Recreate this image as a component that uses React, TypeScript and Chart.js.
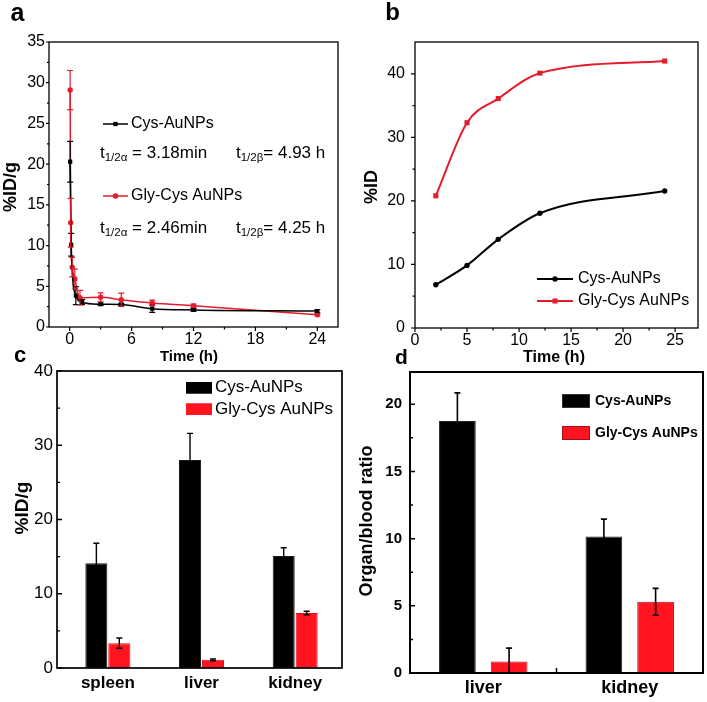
import { useEffect, useRef } from "react";
import { Chart, registerables } from "chart.js";

Chart.register(...registerables);

const W = 707;
const H = 702;
const FONT = "'Liberation Sans', Arial, Helvetica, sans-serif";
const BLACK = "#000000";
const RED_LINE = "#e41c2c";
const RED_BAR = "#ff1420";

const seriesNames = ["Cys-AuNPs", "Gly-Cys AuNPs"];

// ---------- (a) blood clearance ----------
const cysTimeA = [0.05, 0.15, 0.6, 1.2, 3, 5, 8, 12, 24];
const cysA = [20.3, 10.1, 3.85, 3.05, 2.8, 2.75, 2.25, 2.1, 1.95];
const cysErrA = [2.5, 1.4, 1.1, 0.3, 0.15, 0.15, 0.45, 0.15, 0.2];
const glyTimeA = [0.05, 0.1, 0.25, 0.5, 1, 3, 5, 8, 12, 24];
const glyA = [29.1, 12.8, 7.35, 5.9, 3.6, 3.65, 3.35, 2.95, 2.6, 1.5];
const glyErrA = [2.4, 3.0, 1.2, 1.2, 0.9, 0.55, 0.8, 0.35, 0.2, 0.15];
const xTicksA = [0, 6, 12, 18, 24];
const xMinorA = [3, 9, 15, 21];
const yTicksA = [0, 5, 10, 15, 20, 25, 30, 35];
const yMinorA = [2.5, 7.5, 12.5, 17.5, 22.5, 27.5, 32.5];
const halfLifeA = [
  ["1/2α", " = 3.18min", "1/2β", "= 4.93 h"],
  ["1/2α", " = 2.46min", "1/2β", "= 4.25 h"],
];

// ---------- (b) cumulative %ID ----------
const timeB = [2, 5, 8, 12, 24];
const cysB = [6.8, 9.85, 13.95, 18.05, 21.55];
const glyB = [20.8, 32.3, 36.1, 40.1, 42.0];
const xTicksB = [0, 5, 10, 15, 20, 25];
const xMinorB = [2.5, 7.5, 12.5, 17.5, 22.5];
const yTicksB = [0, 10, 20, 30, 40];
const yMinorB = [5, 15, 25, 35];

// ---------- (c) organ %ID/g ----------
const organsC = ["spleen", "liver", "kidney"];
const cysC = [14.1, 28.0, 15.1];
const cysErrC = [2.7, 3.6, 1.1];
const glyC = [3.35, 1.1, 7.4];
const glyErrC = [0.7, 0.12, 0.25];
const yTicksC = [0, 10, 20, 30, 40];
const yMinorC = [5, 15, 25, 35];

// ---------- (d) organ/blood ratio ----------
const organsD = ["liver", "kidney"];
const cysD = [18.75, 10.15];
const cysErrD = [2.1, 1.3];
const glyD = [0.85, 5.3];
const glyErrD = [1.0, 1.0];
const yTicksD = [0, 5, 10, 15, 20];
const yMinorD = [2.5, 7.5, 12.5, 17.5];
const xSepD = [0.5];

type Box = { l: number; r: number; t: number; b: number };
type TickSet = { major: number[]; minor: number[]; inward: boolean; len: number; minorLen: number };
type ErrSet = { ds: number; values: number[]; errs: number[]; color: string; cap: number; width: number };
type Deco = {
  frameWidth: number;
  tickWidth: number;
  frameShiftLeft?: number;
  xTicks?: TickSet;
  yTicks?: TickSet;
  errors?: ErrSet[];
  draw?: (ctx: CanvasRenderingContext2D) => void;
};

function layoutFor(box: Box, yw: number, xh: number) {
  return { padding: { left: box.l - yw, right: W - box.r, top: box.t, bottom: H - box.b - xh } };
}

function axis(o: {
  min: number;
  max: number;
  ticks: number[];
  size: number;
  bold?: boolean;
  padding: number;
  dir: "x" | "y";
  thickness: number;
}) {
  return {
    type: "linear",
    min: o.min,
    max: o.max,
    offset: false,
    grid: { display: false, drawTicks: false },
    border: { display: false },
    ticks: {
      padding: o.padding,
      color: "#000",
      autoSkip: false,
      maxRotation: 0,
      font: { family: FONT, size: o.size, weight: o.bold ? "bold" : "normal" },
    },
    afterBuildTicks: (s: any) => {
      s.ticks = o.ticks.map((value) => ({ value }));
    },
    afterFit: (s: any) => {
      if (o.dir === "x") s.height = o.thickness;
      else s.width = o.thickness;
    },
  };
}

function catAxis(size: number, padding: number, thickness: number) {
  return {
    type: "category",
    offset: true,
    grid: { display: false, drawTicks: false, offset: true },
    border: { display: false },
    ticks: {
      padding,
      color: "#000",
      autoSkip: false,
      maxRotation: 0,
      font: { family: FONT, size, weight: "bold" },
    },
    afterFit: (s: any) => {
      s.height = thickness;
    },
  };
}

function txt(
  ctx: CanvasRenderingContext2D,
  s: string,
  x: number,
  y: number,
  font: string,
  align: CanvasTextAlign = "center",
  rot = 0,
  color = "#000"
) {
  ctx.save();
  ctx.translate(x, y);
  ctx.rotate(rot);
  ctx.font = font;
  ctx.textAlign = align;
  ctx.textBaseline = "middle";
  ctx.fillStyle = color;
  ctx.fillText(s, 0, 0);
  ctx.restore();
}

function marker(ctx: CanvasRenderingContext2D, style: string, x: number, y: number, r: number, color: string) {
  ctx.save();
  ctx.fillStyle = color;
  ctx.beginPath();
  if (style === "rect") {
    const s = r * Math.SQRT1_2;
    ctx.rect(x - s, y - s, 2 * s, 2 * s);
  } else {
    ctx.arc(x, y, r, 0, Math.PI * 2);
  }
  ctx.fill();
  ctx.restore();
}

function lineLegend(
  ctx: CanvasRenderingContext2D,
  x1: number,
  x2: number,
  y: number,
  color: string,
  lw: number,
  style: string,
  r: number,
  label: string,
  font: string,
  gap: number
) {
  ctx.save();
  ctx.strokeStyle = color;
  ctx.lineWidth = lw;
  ctx.beginPath();
  ctx.moveTo(x1, y);
  ctx.lineTo(x2, y);
  ctx.stroke();
  ctx.restore();
  marker(ctx, style, (x1 + x2) / 2, y, r, color);
  txt(ctx, label, x2 + gap, y, font, "left");
}

function boxLegend(
  ctx: CanvasRenderingContext2D,
  x: number,
  y: number,
  w: number,
  h: number,
  fill: string,
  stroke: string,
  label: string,
  font: string,
  gap: number
) {
  ctx.save();
  ctx.fillStyle = fill;
  ctx.fillRect(x, y, w, h);
  ctx.strokeStyle = stroke;
  ctx.lineWidth = 1;
  ctx.strokeRect(x + 0.5, y + 0.5, w - 1, h - 1);
  ctx.restore();
  txt(ctx, label, x + w + gap, y + h / 2, font, "left");
}

function halfLife(ctx: CanvasRenderingContext2D, x: number, y: number, sub: string, rest: string) {
  const main = `17px ${FONT}`;
  const small = `11.5px ${FONT}`;
  ctx.save();
  ctx.fillStyle = "#000";
  ctx.textAlign = "left";
  ctx.textBaseline = "middle";
  ctx.font = main;
  ctx.fillText("t", x, y);
  let cx = x + ctx.measureText("t").width;
  ctx.font = small;
  ctx.fillText(sub, cx, y + 5);
  cx += ctx.measureText(sub).width;
  ctx.font = main;
  ctx.fillText(rest, cx, y);
  ctx.restore();
}

function decoPlugin(d: Deco) {
  return {
    id: "deco",
    afterDatasetsDraw(chart: any) {
      const ctx: CanvasRenderingContext2D = chart.ctx;
      const sy = chart.scales.y;
      const a = chart.chartArea;
      ctx.save();
      ctx.beginPath();
      ctx.rect(a.left, a.top, a.right - a.left, a.bottom - a.top);
      ctx.clip();
      for (const e of d.errors ?? []) {
        const meta = chart.getDatasetMeta(e.ds);
        ctx.strokeStyle = e.color;
        ctx.lineWidth = e.width;
        meta.data.forEach((el: any, j: number) => {
          const x = el.x;
          const hi = sy.getPixelForValue(e.values[j] + e.errs[j]);
          const lo = sy.getPixelForValue(e.values[j] - e.errs[j]);
          ctx.beginPath();
          ctx.moveTo(x, hi);
          ctx.lineTo(x, lo);
          ctx.moveTo(x - e.cap, hi);
          ctx.lineTo(x + e.cap, hi);
          ctx.moveTo(x - e.cap, lo);
          ctx.lineTo(x + e.cap, lo);
          ctx.stroke();
        });
      }
      ctx.restore();
    },
    afterDraw(chart: any) {
      const ctx: CanvasRenderingContext2D = chart.ctx;
      const a = chart.chartArea;
      const sx = chart.scales.x;
      const sy = chart.scales.y;
      const left = a.left - (d.frameShiftLeft ?? 0);
      ctx.save();
      ctx.strokeStyle = "#000";
      ctx.lineWidth = d.tickWidth;
      ctx.beginPath();
      if (d.yTicks) {
        const t = d.yTicks;
        const dir = t.inward ? 1 : -1;
        for (const v of t.major) {
          const y = sy.getPixelForValue(v);
          ctx.moveTo(left, y);
          ctx.lineTo(left + dir * t.len, y);
        }
        for (const v of t.minor) {
          const y = sy.getPixelForValue(v);
          ctx.moveTo(left, y);
          ctx.lineTo(left + dir * t.minorLen, y);
        }
      }
      if (d.xTicks) {
        const t = d.xTicks;
        const dir = t.inward ? -1 : 1;
        for (const v of t.major) {
          const x = sx.getPixelForValue(v);
          ctx.moveTo(x, a.bottom);
          ctx.lineTo(x, a.bottom + dir * t.len);
        }
        for (const v of t.minor) {
          const x = sx.getPixelForValue(v);
          ctx.moveTo(x, a.bottom);
          ctx.lineTo(x, a.bottom + dir * t.minorLen);
        }
      }
      ctx.stroke();
      ctx.lineWidth = d.frameWidth;
      ctx.strokeRect(left, a.top, a.right - left, a.bottom - a.top);
      ctx.restore();
      if (d.draw) d.draw(ctx);
    },
  };
}

const baseOptions = {
  responsive: false,
  animation: false,
  events: [],
};

function configA(): any {
  const box = { l: 49, r: 338, t: 42, b: 327 };
  return {
    type: "line",
    data: {
      datasets: [
        {
          label: seriesNames[0],
          data: cysTimeA.map((x, i) => ({ x, y: cysA[i] })),
          borderColor: BLACK,
          backgroundColor: BLACK,
          pointBackgroundColor: BLACK,
          pointBorderWidth: 0,
          pointStyle: "rect",
          pointRadius: 3,
          borderWidth: 1.5,
          cubicInterpolationMode: "monotone",
        },
        {
          label: seriesNames[1],
          data: glyTimeA.map((x, i) => ({ x, y: glyA[i] })),
          borderColor: RED_LINE,
          backgroundColor: RED_LINE,
          pointBackgroundColor: RED_LINE,
          pointBorderWidth: 0,
          pointStyle: "circle",
          pointRadius: 2.7,
          borderWidth: 1.5,
          cubicInterpolationMode: "monotone",
        },
      ],
    },
    options: {
      ...baseOptions,
      layout: layoutFor(box, 40, 30),
      plugins: { legend: { display: false }, tooltip: { enabled: false } },
      scales: {
        x: axis({ min: -2, max: 26, ticks: xTicksA, size: 16, padding: 3, dir: "x", thickness: 30 }),
        y: axis({ min: 0, max: 35, ticks: yTicksA, size: 16, padding: 4, dir: "y", thickness: 40 }),
      },
    },
    plugins: [
      decoPlugin({
        frameWidth: 1.3,
        tickWidth: 1.2,
        xTicks: { major: xTicksA, minor: xMinorA, inward: false, len: 4, minorLen: 2.5 },
        yTicks: { major: yTicksA, minor: yMinorA, inward: false, len: 3, minorLen: 2 },
        errors: [
          { ds: 0, values: cysA, errs: cysErrA, color: BLACK, cap: 3, width: 1.2 },
          { ds: 1, values: glyA, errs: glyErrA, color: RED_LINE, cap: 3, width: 1.2 },
        ],
        draw: (ctx) => {
          txt(ctx, "a", 17.5, 14, `bold 25px ${FONT}`);
          txt(ctx, "%ID/g", 11, 187, `bold 18px ${FONT}`, "center", -Math.PI / 2);
          txt(ctx, "Time (h)", 189, 357, `bold 15px ${FONT}`);
          lineLegend(ctx, 103, 128, 124, BLACK, 1.5, "rect", 3, seriesNames[0], `16px ${FONT}`, 3);
          lineLegend(ctx, 103, 128, 196, RED_LINE, 1.5, "circle", 2.7, seriesNames[1], `16px ${FONT}`, 3);
          halfLife(ctx, 100, 153, halfLifeA[0][0], halfLifeA[0][1]);
          halfLife(ctx, 236, 153, halfLifeA[0][2], halfLifeA[0][3]);
          halfLife(ctx, 100, 228, halfLifeA[1][0], halfLifeA[1][1]);
          halfLife(ctx, 236, 228, halfLifeA[1][2], halfLifeA[1][3]);
        },
      }),
    ],
  };
}

function configB(): any {
  const box = { l: 415, r: 698, t: 42, b: 328 };
  return {
    type: "line",
    data: {
      datasets: [
        {
          label: seriesNames[0],
          data: timeB.map((x, i) => ({ x, y: cysB[i] })),
          borderColor: BLACK,
          backgroundColor: BLACK,
          pointBackgroundColor: BLACK,
          pointBorderWidth: 0,
          pointStyle: "circle",
          pointRadius: 2.7,
          borderWidth: 2,
          cubicInterpolationMode: "monotone",
        },
        {
          label: seriesNames[1],
          data: timeB.map((x, i) => ({ x, y: glyB[i] })),
          borderColor: RED_LINE,
          backgroundColor: RED_LINE,
          pointBackgroundColor: RED_LINE,
          pointBorderWidth: 0,
          pointStyle: "rect",
          pointRadius: 3.6,
          borderWidth: 2,
          cubicInterpolationMode: "monotone",
        },
      ],
    },
    options: {
      ...baseOptions,
      layout: layoutFor(box, 40, 30),
      plugins: { legend: { display: false }, tooltip: { enabled: false } },
      scales: {
        x: axis({ min: 0, max: 27.2, ticks: xTicksB, size: 16, padding: 3, dir: "x", thickness: 30 }),
        y: axis({ min: 0, max: 45, ticks: yTicksB, size: 16, padding: 10, dir: "y", thickness: 40 }),
      },
    },
    plugins: [
      decoPlugin({
        frameWidth: 1.3,
        tickWidth: 1.2,
        xTicks: { major: xTicksB, minor: xMinorB, inward: false, len: 4, minorLen: 2.5 },
        yTicks: { major: yTicksB, minor: yMinorB, inward: false, len: 4, minorLen: 2.5 },
        draw: (ctx) => {
          txt(ctx, "b", 392.5, 13.5, `bold 24px ${FONT}`);
          txt(ctx, "%ID", 372.5, 187, `bold 18px ${FONT}`, "center", -Math.PI / 2);
          txt(ctx, "Time (h)", 554, 358, `bold 16px ${FONT}`);
          lineLegend(ctx, 537, 573, 279, BLACK, 2, "circle", 2.7, seriesNames[0], `16px ${FONT}`, 5);
          lineLegend(ctx, 537, 573, 301, RED_LINE, 2, "rect", 3.6, seriesNames[1], `16px ${FONT}`, 5);
        },
      }),
    ],
  };
}

function configC(): any {
  const box = { l: 61, r: 342, t: 371, b: 668 };
  return {
    type: "bar",
    data: {
      labels: organsC,
      datasets: [
        {
          label: seriesNames[0],
          data: cysC,
          backgroundColor: BLACK,
          borderColor: "#1a1a1a",
          borderWidth: 1,
          categoryPercentage: 0.49,
          barPercentage: 0.96,
        },
        {
          label: seriesNames[1],
          data: glyC,
          backgroundColor: RED_BAR,
          borderColor: "#e0101a",
          borderWidth: 1,
          categoryPercentage: 0.49,
          barPercentage: 0.96,
        },
      ],
    },
    options: {
      ...baseOptions,
      layout: layoutFor(box, 40, 30),
      plugins: { legend: { display: false }, tooltip: { enabled: false } },
      scales: {
        x: catAxis(17, 5, 30),
        y: axis({ min: 0, max: 40, ticks: yTicksC, size: 17, padding: 8, dir: "y", thickness: 40 }),
      },
    },
    plugins: [
      decoPlugin({
        frameWidth: 1.7,
        tickWidth: 1.3,
        frameShiftLeft: 4,
        yTicks: { major: yTicksC, minor: yMinorC, inward: true, len: 5, minorLen: 3 },
        errors: [
          { ds: 0, values: cysC, errs: cysErrC, color: BLACK, cap: 3, width: 1.4 },
          { ds: 1, values: glyC, errs: glyErrC, color: BLACK, cap: 3, width: 1.4 },
        ],
        draw: (ctx) => {
          txt(ctx, "c", 20, 356, `bold 22px ${FONT}`);
          txt(ctx, "%ID/g", 23, 508, `bold 19px ${FONT}`, "center", -Math.PI / 2);
          boxLegend(ctx, 186, 382, 26, 11.5, BLACK, BLACK, seriesNames[0], `17px ${FONT}`, 3);
          boxLegend(ctx, 186, 403.5, 26, 11.5, RED_BAR, RED_BAR, seriesNames[1], `17px ${FONT}`, 3);
        },
      }),
    ],
  };
}

function configD(): any {
  const box = { l: 410, r: 703, t: 372, b: 673 };
  return {
    type: "bar",
    data: {
      labels: organsD,
      datasets: [
        {
          label: seriesNames[0],
          data: cysD,
          backgroundColor: BLACK,
          borderColor: "#222",
          borderWidth: 1,
          categoryPercentage: 0.706,
          barPercentage: 0.71,
        },
        {
          label: seriesNames[1],
          data: glyD,
          backgroundColor: RED_BAR,
          borderColor: "#b01018",
          borderWidth: 1,
          categoryPercentage: 0.706,
          barPercentage: 0.71,
        },
      ],
    },
    options: {
      ...baseOptions,
      layout: layoutFor(box, 40, 30),
      plugins: { legend: { display: false }, tooltip: { enabled: false } },
      scales: {
        x: catAxis(18, 4, 30),
        y: axis({ min: 0, max: 22.4, ticks: yTicksD, size: 15, bold: true, padding: 8, dir: "y", thickness: 40 }),
      },
    },
    plugins: [
      decoPlugin({
        frameWidth: 2,
        tickWidth: 1.5,
        xTicks: { major: xSepD, minor: [], inward: true, len: 5, minorLen: 3 },
        yTicks: { major: yTicksD, minor: yMinorD, inward: true, len: 5, minorLen: 3 },
        errors: [
          { ds: 0, values: cysD, errs: cysErrD, color: BLACK, cap: 3, width: 1.6 },
          { ds: 1, values: glyD, errs: glyErrD, color: BLACK, cap: 3, width: 1.6 },
        ],
        draw: (ctx) => {
          txt(ctx, "d", 401.5, 358, `bold 21px ${FONT}`);
          txt(ctx, "Organ/blood ratio", 366.7, 521, `bold 18px ${FONT}`, "center", -Math.PI / 2);
          boxLegend(ctx, 562, 394, 28, 14, BLACK, "#333", seriesNames[0], `bold 14px ${FONT}`, 5);
          boxLegend(ctx, 562, 426, 28, 14, RED_BAR, "#a01018", seriesNames[1], `bold 14px ${FONT}`, 5);
        },
      }),
    ],
  };
}

export default function App() {
  const refA = useRef<HTMLCanvasElement>(null);
  const refB = useRef<HTMLCanvasElement>(null);
  const refC = useRef<HTMLCanvasElement>(null);
  const refD = useRef<HTMLCanvasElement>(null);

  useEffect(() => {
    Chart.defaults.font.family = FONT;
    Chart.defaults.color = "#000";
    const charts = [
      new Chart(refA.current as HTMLCanvasElement, configA()),
      new Chart(refB.current as HTMLCanvasElement, configB()),
      new Chart(refC.current as HTMLCanvasElement, configC()),
      new Chart(refD.current as HTMLCanvasElement, configD()),
    ];
    return () => charts.forEach((c) => c.destroy());
  }, []);

  const cstyle: any = { position: "absolute", left: 0, top: 0, width: W, height: H };
  return (
    <div style={{ position: "absolute", left: 0, top: 0, width: W, height: H, background: "#fff", overflow: "hidden" }}>
      <canvas ref={refA} width={W} height={H} style={cstyle} />
      <canvas ref={refB} width={W} height={H} style={cstyle} />
      <canvas ref={refC} width={W} height={H} style={cstyle} />
      <canvas ref={refD} width={W} height={H} style={cstyle} />
    </div>
  );
}
